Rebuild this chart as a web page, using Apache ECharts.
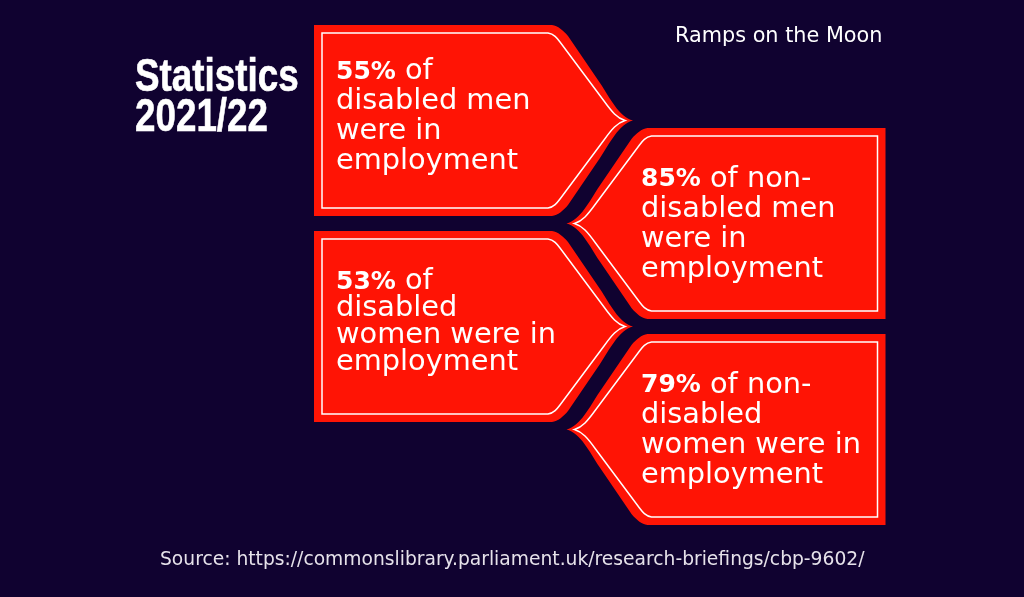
<!DOCTYPE html>
<html>
<head>
<meta charset="utf-8">
<title>Statistics 2021/22</title>
<script src="https://cdn.jsdelivr.net/npm/echarts@6/dist/echarts.min.js"></script>
<style>
  html, body { margin: 0; padding: 0; background: #100230; }
  #chart { width: 1024px; height: 597px; }
</style>
</head>
<body>
<div id="chart"></div>
<script>
// chart data
const groups = ['disabled', 'non-disabled'];
const rows = ['men, disabled', 'men, non-disabled', 'women, disabled', 'women, non-disabled'];
const percents = [55, 85, 53, 79];
const firstWords = [' of', ' of non-', ' of', ' of non-'];
const restLines = [
    ['disabled men', 'were in', 'employment'],
    ['disabled men', 'were in', 'employment'],
    ['disabled', 'women were in', 'employment'],
    ['disabled', 'women were in', 'employment']
];

const RED = '#ff1405';
const BG = '#100230';
const FONT = '"DejaVu Sans", sans-serif';

// arrow outlines, taken from the panel's top left corner
const PANEL_W = 319;
const PANEL_H = 191;
const outerPath = 'M0 0L238 0C244 1 249 5 254 11L286 58C296 73 305 92 319 95.5'
    + 'C305 99 296 118 286 133L254 180C249 186 244 190 238 191L0 191Z';
const innerPath = 'M8 8L234 8C240 9 243 13 246 17L290 76C298 87 303 93 311 95.5'
    + 'C303 98 298 104 290 115L246 174C243 178 240 182 234 183L8 183Z';

// per panel text tweaks
const lineGaps = [30, 30, 27, 30];
const textShiftY = [-3.5, 1, -4, 1];
const textShiftX = [-137.5, -85];

function renderPanel(params, api) {
    const col = api.value(0);
    const row = api.value(1);
    const i = params.dataIndex;
    const center = api.coord([col, row]);
    const flip = col === 0 ? 1 : -1;
    const gap = lineGaps[i];
    const text = '{b|' + api.value(2) + '%}{n|' + firstWords[i] + '}\n'
        + restLines[i].map(l => '{n|' + l + '}').join('\n');
    return {
        type: 'group',
        children: [
            {
                type: 'group',
                x: center[0],
                y: center[1],
                scaleX: flip,
                children: [
                    {
                        type: 'path',
                        shape: {
                            pathData: outerPath,
                            layout: 'cover',
                            x: -PANEL_W / 2,
                            y: -PANEL_H / 2,
                            width: PANEL_W,
                            height: PANEL_H
                        },
                        style: { fill: RED }
                    },
                    {
                        type: 'path',
                        shape: {
                            pathData: innerPath,
                            layout: 'cover',
                            x: -PANEL_W / 2 + 8,
                            y: -PANEL_H / 2 + 8,
                            width: 303,
                            height: 175
                        },
                        style: { fill: 'none', stroke: '#fff', lineWidth: 1.5 }
                    }
                ]
            },
            {
                type: 'text',
                x: center[0] + textShiftX[col],
                y: center[1] + textShiftY[i],
                style: {
                    text: text,
                    align: 'left',
                    verticalAlign: 'middle',
                    fill: '#fff',
                    rich: {
                        b: { font: 'bold 25px ' + FONT, fill: '#fff', lineHeight: gap },
                        n: { font: '28.8px ' + FONT, fill: '#fff', lineHeight: gap }
                    }
                }
            }
        ]
    };
}

const chart = echarts.init(document.getElementById('chart'));
chart.setOption({
    backgroundColor: BG,
    animation: false,
    title: [
        {
            text: 'Ramps on the Moon',
            left: 670,
            top: 21,
            textStyle: { color: '#fff', fontFamily: FONT, fontWeight: 'normal', fontSize: 20.8 }
        },
        {
            text: 'Source: https://commonslibrary.parliament.uk/research-briefings/cbp-9602/',
            left: 155,
            top: 546,
            textStyle: { color: '#e6e2ea', fontFamily: FONT, fontWeight: 'normal', fontSize: 18.7 }
        }
    ],
    graphic: [
        {
            type: 'text',
            x: 135,
            y: 58,
            scaleX: 0.8,
            style: {
                text: 'Statistics\n2021/22',
                fill: '#fff',
                stroke: '#fff',
                lineWidth: 0.6,
                font: 'bold 46px "Liberation Sans", sans-serif',
                lineHeight: 40
            }
        }
    ],
    grid: { left: 347.25, top: 69, width: 505, height: 412 },
    xAxis: { type: 'category', data: groups, show: false },
    yAxis: { type: 'category', data: rows, inverse: true, show: false },
    series: [
        {
            type: 'custom',
            renderItem: renderPanel,
            clip: false,
            data: percents.map((p, i) => [i % 2, i, p])
        }
    ]
});
</script>
</body>
</html>
